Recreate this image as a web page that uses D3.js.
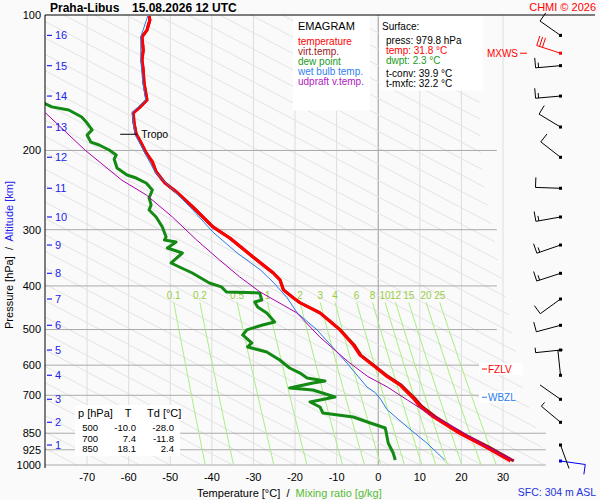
<!DOCTYPE html>
<html>
<head>
<meta charset="utf-8">
<script src="https://cdn.jsdelivr.net/npm/d3@7"></script>
<style>
  body { margin: 0; background: #fafafa; }
  svg { display: block; font-family: "Liberation Sans", Arial, sans-serif; }
</style>
</head>
<body>
<svg id="chart" width="600" height="500"></svg>
<script>
// pressure levels / ticks
var pressLevels = [100, 200, 300, 400, 500, 600, 700, 850, 925, 1000];
var tempTicks = [-70, -60, -50, -40, -30, -20, -10, 0, 10, 20, 30];
var kmLabels = [1, 2, 3, 4, 5, 6, 7, 8, 9, 10, 11, 12, 13, 14, 15, 16];
var kmPress = [902.8, 803.7, 714.5, 631.9, 555.3, 489.3, 427.7, 375.0, 324.5, 281.1, 242.7, 207.1, 177.4, 151.4, 129.6, 111.0];
var mixRatios = [0.1, 0.2, 0.5, 1, 2, 3, 4, 6, 8, 10, 12, 15, 20, 25];
var mixLabels = ["0.1", "0.2", "0.5", "1", "2", "3", "4", "6", "8", "10", "12", "15", "20", "25"];

// temperature profile
var tempP = [100.5, 102.6, 108, 111.9, 119.6, 125.9, 132.5, 141.6, 154.5, 160.9, 165, 173.8, 183.8, 192.5, 202.6, 212, 223, 236, 247, 267, 296, 313, 345, 374, 388, 408, 428, 436, 459, 501, 541, 570, 609, 636, 664, 710, 741, 782, 850, 912, 965, 979.8];
var tempT = [-55.1, -54.9, -55.6, -56.8, -56.5, -56.8, -56.5, -56.3, -55.6, -57.5, -58.9, -58.7, -58.2, -57.0, -55.8, -54.3, -53.4, -51.3, -48.6, -44.6, -39.7, -35.7, -30.1, -25.3, -23.6, -22.8, -20.0, -18.8, -14.0, -9.2, -6.0, -4.4, -0.4, 2.1, 5.2, 8.4, 10.0, 13.3, 19.5, 25.8, 30.5, 31.8];
var virtT = [-55.1, -54.9, -55.6, -56.8, -56.5, -56.8, -56.5, -56.3, -55.6, -57.5, -58.9, -58.7, -58.2, -57.0, -55.8, -54.3, -53.4, -51.3, -48.6, -44.6, -39.7, -35.7, -30.1, -25.3, -23.6, -22.8, -20.0, -18.8, -14.0, -9.1, -5.8, -4.2, -0.2, 2.4, 5.5, 8.7, 10.5, 13.8, 20.1, 26.6, 31.3, 32.6];

// wet bulb
var wetP = [100.5, 111.9, 125.9, 141.6, 154.5, 165, 183.8, 202.6, 223, 247, 271, 304, 338, 368, 392, 425, 459, 501, 548, 594, 671, 690, 710, 753, 822, 894, 975];
var wetT = [-55.4, -57.1, -57.1, -56.6, -55.9, -59.2, -58.5, -56.1, -53.7, -48.9, -44.6, -39.7, -33.9, -28.4, -25.3, -21.9, -19.5, -14.7, -10.9, -7.5, -2.7, -0.8, 0.4, 2.1, 6.9, 11.7, 16.0];

// dew point
var dewP = [157, 160, 162.6, 168.5, 173.8, 180, 184.8, 191.6, 194.5, 199.5, 204.7, 209, 218.8, 226.8, 230.3, 236.2, 244.8, 255, 264.3, 271.2, 281.1, 296, 311.3, 316.2, 319.5, 329.5, 338, 355.7, 363.1, 374.4, 394, 402, 412.6, 414.7, 429.8, 434.2, 445.5, 459.4, 481, 488.5, 501, 514, 535.5, 546.6, 560.8, 584.3, 608.7, 624.7, 640.8, 650.7, 657.4, 674.5, 681.3, 706.2, 724.4, 743.2, 766.3, 782.3, 806.6, 827.5, 893.4, 940.4, 974.7];
var dewT = [-80.4, -78.5, -74.4, -71.3, -70.0, -68.8, -70.0, -69.1, -67.1, -64.7, -63.0, -63.5, -62.8, -60.4, -58.2, -55.8, -54.3, -55.1, -54.6, -55.1, -53.4, -51.9, -51.0, -51.4, -48.6, -50.7, -47.1, -49.8, -47.8, -44.7, -40.6, -37.7, -36.5, -28.5, -28.0, -29.7, -29.0, -26.8, -24.9, -27.8, -31.6, -32.6, -30.4, -31.4, -26.8, -23.7, -21.3, -18.8, -17.1, -12.8, -15.7, -21.3, -15.7, -10.4, -16.4, -14.0, -13.3, -6.0, -1.9, 1.7, 2.4, 3.6, 4.1];

// updraft virtual temperature (parcel)
var parcelP = [165, 200, 233, 251, 281, 316, 350, 382, 412, 459, 520, 590, 636, 671, 717, 767, 837, 894, 976];
var parcelT = [-80.0, -70.4, -61.6, -55.8, -49.5, -43.7, -38.2, -33.3, -28.5, -19.6, -14.0, -7.2, -2.5, 2.2, 7.0, 12.0, 19.5, 24.6, 32.4];

// winds (deg, kt)
var windP = [979.8, 902.8, 803.7, 714.5, 631.9, 555.3, 489.3, 427.7, 375.0, 324.5, 281.1, 242.7, 207.1, 177.4, 151.4, 129.6, 121.6, 111.0];
var windDir = [98, 160, 310, 305, 354, 264, 255, 234, 252, 251, 260, 272, 308, 301, 265, 265, 288, 305];
var windSpd = [10, 2, 5, 2, 5, 5, 10, 10, 15, 15, 15, 10, 10, 10, 15, 15, 30, 10];
var windKind = ["sfc", "", "", "", "", "", "", "", "", "", "", "", "", "", "", "", "mxws", ""];

var tableP = ["500", "700", "850"];
var tableT = ["-10.0", "7.4", "18.1"];
var tableTd = ["-28.0", "-11.8", "2.4"];

var tropoP = 184.1, tropoT = -58.2;
var fzlvP = 612, wbzlP = 707, mxwsP = 121.6;

var svg = d3.select("#chart");
var x = d3.scaleLinear().domain([-80, 30]).range([45.5, 503]);
var y = d3.scaleLog().domain([100, 1000]).range([15, 465]);

svg.append("rect").attr("width", 600).attr("height", 500).attr("fill", "#fafafa");

var defs = svg.append("defs");
defs.append("clipPath").attr("id", "plotclip")
    .append("rect").attr("x", 45).attr("y", 15).attr("width", 510).attr("height", 451);

// right edge of the adiabat field
var adiaEdge = [[100, 23], [130, 24], [230, 25], [300, 27.5], [690, 35], [880, 39], [1000, 40.5]];
var poly = [[45, 15]].concat(adiaEdge.map(d => [x(d[1]), y(d[0])])).concat([[45, 465]]);
defs.append("clipPath").attr("id", "adiaclip")
    .append("polygon").attr("points", poly.map(d => d.join(",")).join(" "));

// vertical isotherms
svg.append("g").selectAll("line").data(tempTicks).enter().append("line")
    .attr("x1", d => x(d)).attr("x2", d => x(d))
    .attr("y1", 15).attr("y2", 465)
    .attr("stroke", d => d === 0 ? "#999" : "#ddd").attr("stroke-width", 1);

// diagonal reference lines
var adiaBase = d3.range(-80, 245, 7.5);
var adiaSlope = 205.6; // degC per decade of pressure
svg.append("g").attr("clip-path", "url(#adiaclip)")
    .selectAll("line").data(adiaBase).enter().append("line")
    .attr("x1", d => x(d)).attr("y1", y(1000))
    .attr("x2", d => x(d - adiaSlope)).attr("y2", y(100))
    .attr("stroke", "#e3e3e3").attr("stroke-width", 1);

// horizontal isobars
svg.append("g").selectAll("line").data(pressLevels.slice(1)).enter().append("line")
    .attr("x1", 45).attr("x2", d => x(d >= 850 ? 40.3 : 28.5))
    .attr("y1", d => y(d)).attr("y2", d => y(d))
    .attr("stroke", "#aaa").attr("stroke-width", 1);

// mixing ratio lines
function satT(w, p) {
    var e = w * p / (622 + w);
    var l = Math.log(e / 6.112);
    return 243.5 * l / (17.67 - l);
}
var mixTop = 435;
var mixPs = [435, 500, 600, 700, 800, 900, 1000];
var mixLine = d3.line().x(d => x(d[1])).y(d => y(d[0]));
var mg = svg.append("g");
mixRatios.forEach(function (w, i) {
    mg.append("path")
        .attr("d", mixLine(mixPs.map(p => [p, satT(w, p)])))
        .attr("fill", "none").attr("stroke", "#a8f080").attr("stroke-width", 1);
    mg.append("text")
        .attr("x", x(satT(w, mixTop))).attr("y", y(mixTop) - 3)
        .attr("text-anchor", "middle").attr("font-size", "10px")
        .attr("fill", "#99cc44").text(mixLabels[i]);
});

// white info boxes
svg.append("rect").attr("x", 293).attr("y", 15.5).attr("width", 77).attr("height", 95).attr("fill", "#fff");
svg.append("rect").attr("x", 379.5).attr("y", 15.5).attr("width", 103.5).attr("height", 75).attr("fill", "#fff");
svg.append("rect").attr("x", 75).attr("y", 405).attr("width", 105).attr("height", 51).attr("fill", "#fff");

// profiles
var prof = svg.append("g").attr("clip-path", "url(#plotclip)");
var pline = d3.line().x(d => x(d[1])).y(d => y(d[0]));
function drawProfile(ps, ts, color, width) {
    prof.append("path")
        .attr("d", pline(ps.map((p, i) => [p, ts[i]])))
        .attr("fill", "none").attr("stroke", color)
        .attr("stroke-width", width).attr("stroke-linejoin", "round");
}
drawProfile(tempP, virtT, "#a01010", 3);
drawProfile(tempP, tempT, "#ff0000", 3);
drawProfile(wetP, wetT, "#2a7ae8", 1);
drawProfile(dewP, dewT, "#138a13", 3);
drawProfile(parcelP, parcelT, "#aa00aa", 1);

// frame
svg.append("line").attr("x1", 45).attr("x2", 45).attr("y1", 15).attr("y2", 468).attr("stroke", "#000");
svg.append("line").attr("x1", 45).attr("x2", 595).attr("y1", 15).attr("y2", 15).attr("stroke", "#000");

// pressure labels
svg.append("g").selectAll("text").data(pressLevels).enter().append("text")
    .attr("x", 41).attr("y", d => y(d)).attr("dy", "0.35em")
    .attr("text-anchor", "end").attr("font-size", "11px").text(d => d);

// km labels
var kg = svg.append("g");
kmLabels.forEach(function (k, i) {
    var yy = y(kmPress[i]);
    kg.append("line").attr("x1", 47).attr("x2", 52).attr("y1", yy).attr("y2", yy)
        .attr("stroke", "#2222ee").attr("stroke-width", 1.2);
    kg.append("text").attr("x", 55).attr("y", yy).attr("dy", "0.35em")
        .attr("font-size", "11px").attr("fill", "#2222ee").text(k);
});

// temperature labels
svg.append("g").selectAll("text").data(tempTicks).enter().append("text")
    .attr("x", d => x(d)).attr("y", 481)
    .attr("text-anchor", "middle").attr("font-size", "11px").text(d => d);

// axis titles
var xt = svg.append("text").attr("x", 197).attr("y", 497).attr("font-size", "11px").attr("xml:space", "preserve");
xt.append("tspan").attr("fill", "#000").text("Temperature [°C]  /  ");
xt.append("tspan").attr("fill", "#55bb33").text("Mixing ratio [g/kg]");

var yt = svg.append("text").attr("transform", "translate(13,255) rotate(-90)")
    .attr("text-anchor", "middle").attr("font-size", "11px").attr("xml:space", "preserve");
yt.append("tspan").attr("fill", "#000").text("Pressure [hPa]  /  ");
yt.append("tspan").attr("fill", "#2222ee").text("Altitude [km]");

// title
svg.append("text").attr("x", 50).attr("y", 12).attr("font-size", "12px").attr("font-weight", "bold").text("Praha-Libus");
svg.append("text").attr("x", 132).attr("y", 12).attr("font-size", "12px").attr("font-weight", "bold").text("15.08.2026 12 UTC");
svg.append("text").attr("x", 596).attr("y", 11).attr("text-anchor", "end").attr("font-size", "11px").attr("fill", "#ff0000").text("CHMI © 2026");
svg.append("text").attr("x", 596).attr("y", 496).attr("text-anchor", "end").attr("font-size", "10.5px").attr("fill", "#2233dd").text("SFC: 304 m ASL");

// legend
var legend = [
    ["EMAGRAM", "#000", 11],
    ["temperature", "#ff0000", 10],
    ["virt.temp.", "#a01818", 10],
    ["dew point", "#1a9a1a", 10],
    ["wet bulb temp.", "#3080f0", 10],
    ["udpraft v.temp.", "#b020c0", 10]
];
var legY = [30, 45, 55, 65, 75, 85];
legend.forEach(function (d, i) {
    svg.append("text").attr("x", 298).attr("y", legY[i])
        .attr("font-size", d[2] + "px").attr("fill", d[1]).text(d[0]);
});

// surface box
var sfcLines = [
    ["Surface:", "#000", 382, 30],
    ["press: 979.8 hPa", "#000", 386, 44],
    ["temp: 31.8 °C", "#ff0000", 386, 54],
    ["dwpt: 2.3 °C", "#1a9a1a", 386, 64],
    ["t-conv: 39.9 °C", "#000", 386, 77],
    ["t-mxfc: 32.2 °C", "#000", 386, 87]
];
sfcLines.forEach(function (d) {
    svg.append("text").attr("x", d[2]).attr("y", d[3]).attr("font-size", "10px").attr("fill", d[1]).text(d[0]);
});

// table
svg.append("text").attr("x", 78).attr("y", 417).attr("font-size", "11px").text("p [hPa]");
svg.append("text").attr("x", 128).attr("y", 417).attr("font-size", "11px").attr("text-anchor", "middle").text("T");
svg.append("text").attr("x", 147).attr("y", 417).attr("font-size", "11px").text("Td [°C]");
tableP.forEach(function (p, i) {
    var yy = 431 + i * 10.5;
    svg.append("text").attr("x", 98).attr("y", yy).attr("font-size", "9.5px").attr("text-anchor", "end").text(p);
    svg.append("text").attr("x", 136).attr("y", yy).attr("font-size", "9.5px").attr("text-anchor", "end").text(tableT[i]);
    svg.append("text").attr("x", 174).attr("y", yy).attr("font-size", "9.5px").attr("text-anchor", "end").text(tableTd[i]);
});

// tropopause marker
svg.append("line").attr("x1", x(tropoT) - 16).attr("x2", x(tropoT) + 1)
    .attr("y1", y(tropoP)).attr("y2", y(tropoP)).attr("stroke", "#000");
svg.append("text").attr("x", x(tropoT) + 5).attr("y", y(tropoP)).attr("dy", "0.35em")
    .attr("font-size", "10.5px").text("Tropo");

// level markers
function levelMark(p, label, color) {
    var yy = y(p);
    svg.append("rect").attr("x", 479).attr("y", yy - 6).attr("width", label === "FZLV" ? 44 : 35).attr("height", 12).attr("fill", "#fff");
    svg.append("line").attr("x1", 482).attr("x2", 487).attr("y1", yy).attr("y2", yy).attr("stroke", color);
    svg.append("text").attr("x", 488).attr("y", yy).attr("dy", "0.35em").attr("font-size", "10px").attr("fill", color).text(label);
}
levelMark(fzlvP, "FZLV", "#ff0000");
levelMark(wbzlP, "WBZL", "#2a7ae8");
svg.append("text").attr("x", 518).attr("y", y(mxwsP)).attr("dy", "0.35em").attr("text-anchor", "end")
    .attr("font-size", "10px").attr("fill", "#ff0000").text("MXWS");
svg.append("line").attr("x1", 520).attr("x2", 527).attr("y1", y(mxwsP)).attr("y2", y(mxwsP)).attr("stroke", "#ff0000");

// wind barbs
var barbX = 560.5;
var bg = svg.append("g");
windP.forEach(function (p, i) {
    var color = windKind[i] === "mxws" ? "#ff0000" : (windKind[i] === "sfc" ? "#0000ee" : "#000");
    var cy = y(p);
    var a = windDir[i] * Math.PI / 180;
    var ux = Math.sin(a), uy = -Math.cos(a);
    var px = -uy, py = ux;
    var L = 25;
    bg.append("line").attr("x1", barbX).attr("y1", cy)
        .attr("x2", barbX + ux * L).attr("y2", cy + uy * L)
        .attr("stroke", color).attr("stroke-width", 1);
    var rest = windSpd[i], k = 0;
    while (rest >= 10) {
        var bx = barbX + ux * (L - k * 3), by = cy + uy * (L - k * 3);
        bg.append("line").attr("x1", bx).attr("y1", by)
            .attr("x2", bx + px * 10).attr("y2", by + py * 10)
            .attr("stroke", color);
        rest -= 10; k++;
    }
    if (rest >= 5) {
        var hx = barbX + ux * (L - k * 3), hy = cy + uy * (L - k * 3);
        bg.append("line").attr("x1", hx).attr("y1", hy)
            .attr("x2", hx + px * 5).attr("y2", hy + py * 5)
            .attr("stroke", color);
    }
    bg.append("rect").attr("x", barbX - 1.5).attr("y", cy - 1.5)
        .attr("width", 3).attr("height", 3).attr("fill", color);
});
</script>
</body>
</html>
